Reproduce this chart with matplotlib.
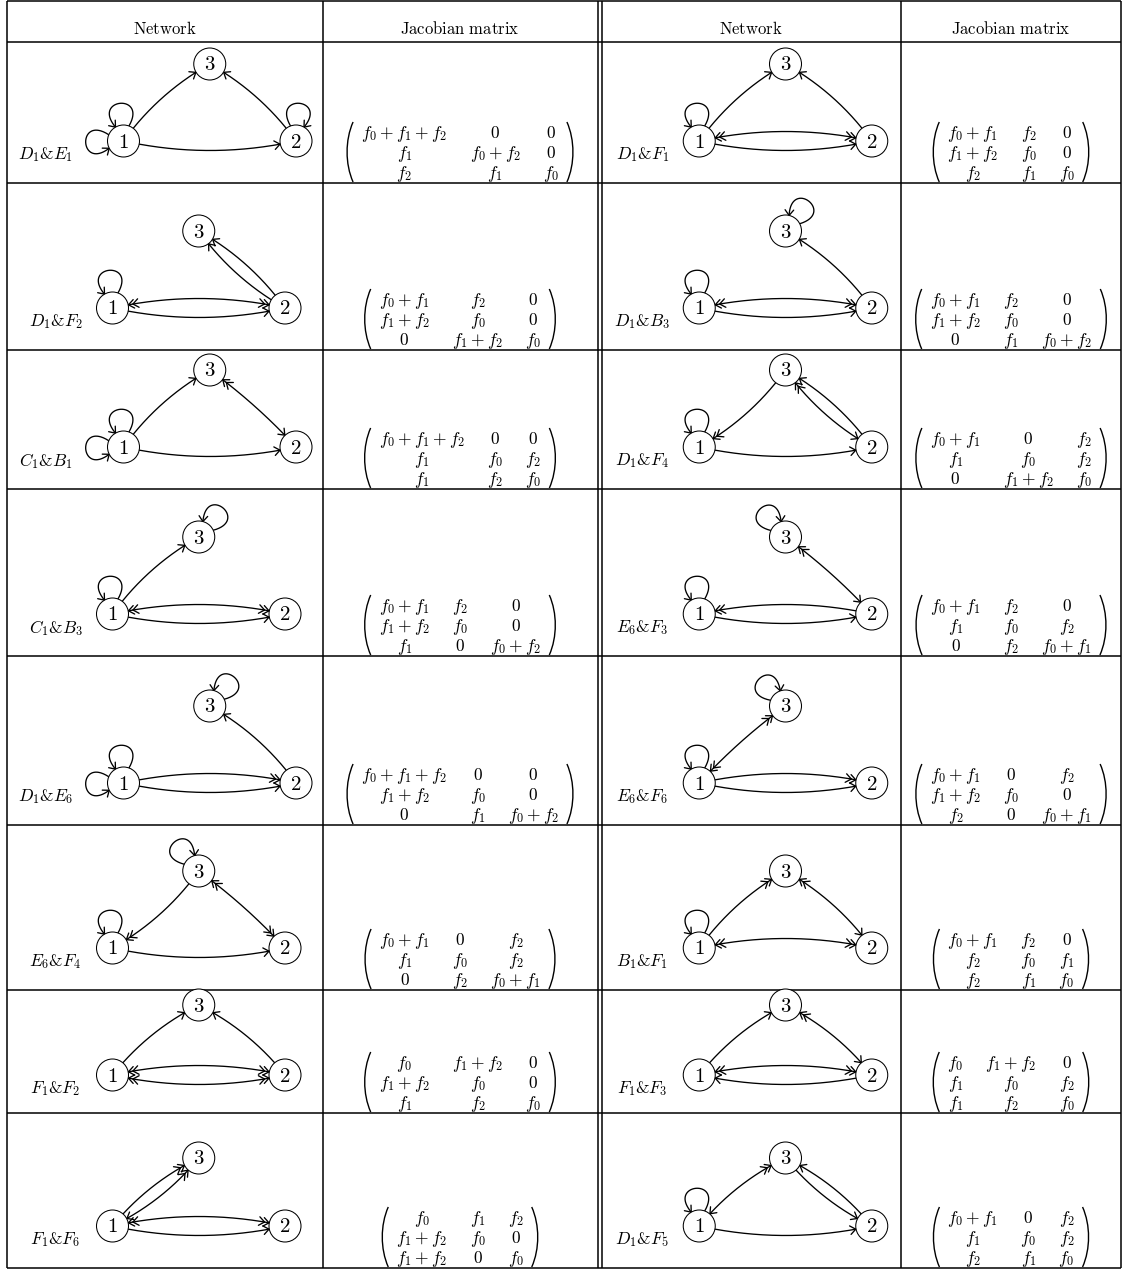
import numpy as np
import matplotlib.pyplot as plt
from matplotlib.path import Path
from matplotlib.patches import Circle, PathPatch

plt.rcParams['mathtext.fontset'] = 'cm'

W, H = 1126, 1272

headers = ["Network", "Jacobian matrix", "Network", "Jacobian matrix"]

labels_left = ["D_1&E_1", "D_1&F_2", "C_1&B_1", "C_1&B_3",
               "D_1&E_6", "E_6&F_4", "F_1&F_2", "F_1&F_6"]
labels_right = ["D_1&F_1", "D_1&B_3", "D_1&F_4", "E_6&F_3",
                "E_6&F_6", "B_1&F_1", "F_1&F_3", "D_1&F_5"]

jac_left = [
    [["f_0+f_1+f_2", "0", "0"], ["f_1", "f_0+f_2", "0"], ["f_2", "f_1", "f_0"]],
    [["f_0+f_1", "f_2", "0"], ["f_1+f_2", "f_0", "0"], ["0", "f_1+f_2", "f_0"]],
    [["f_0+f_1+f_2", "0", "0"], ["f_1", "f_0", "f_2"], ["f_1", "f_2", "f_0"]],
    [["f_0+f_1", "f_2", "0"], ["f_1+f_2", "f_0", "0"], ["f_1", "0", "f_0+f_2"]],
    [["f_0+f_1+f_2", "0", "0"], ["f_1+f_2", "f_0", "0"], ["0", "f_1", "f_0+f_2"]],
    [["f_0+f_1", "0", "f_2"], ["f_1", "f_0", "f_2"], ["0", "f_2", "f_0+f_1"]],
    [["f_0", "f_1+f_2", "0"], ["f_1+f_2", "f_0", "0"], ["f_1", "f_2", "f_0"]],
    [["f_0", "f_1", "f_2"], ["f_1+f_2", "f_0", "0"], ["f_1+f_2", "0", "f_0"]],
]
jac_right = [
    [["f_0+f_1", "f_2", "0"], ["f_1+f_2", "f_0", "0"], ["f_2", "f_1", "f_0"]],
    [["f_0+f_1", "f_2", "0"], ["f_1+f_2", "f_0", "0"], ["0", "f_1", "f_0+f_2"]],
    [["f_0+f_1", "0", "f_2"], ["f_1", "f_0", "f_2"], ["0", "f_1+f_2", "f_0"]],
    [["f_0+f_1", "f_2", "0"], ["f_1", "f_0", "f_2"], ["0", "f_2", "f_0+f_1"]],
    [["f_0+f_1", "0", "f_2"], ["f_1+f_2", "f_0", "0"], ["f_2", "0", "f_0+f_1"]],
    [["f_0+f_1", "f_2", "0"], ["f_2", "f_0", "f_1"], ["f_2", "f_1", "f_0"]],
    [["f_0", "f_1+f_2", "0"], ["f_1", "f_0", "f_2"], ["f_1", "f_2", "f_0"]],
    [["f_0+f_1", "0", "f_2"], ["f_1", "f_0", "f_2"], ["f_2", "f_1", "f_0"]],
]

# arcs: (node a, node b, side, heads at a, heads at b)
arcs_left = [
    [(1, 2, 'out', 0, 1), (1, 3, 'out', 0, 1), (2, 3, 'out', 0, 1)],
    [(1, 2, 'in', 2, 2), (1, 2, 'out', 0, 1), (2, 3, 'out', 0, 1), (2, 3, 'in', 0, 1)],
    [(1, 2, 'out', 0, 1), (1, 3, 'out', 0, 1), (2, 3, 'flat', 1, 2)],
    [(1, 2, 'in', 2, 2), (1, 2, 'out', 0, 1), (1, 3, 'out', 0, 1)],
    [(1, 2, 'in', 0, 2), (1, 2, 'out', 0, 1), (2, 3, 'out', 0, 1)],
    [(1, 3, 'in', 2, 0), (1, 2, 'out', 0, 1), (2, 3, 'flat', 2, 2)],
    [(1, 2, 'in', 2, 2), (1, 2, 'out', 2, 2), (1, 3, 'out', 0, 1), (2, 3, 'out', 0, 1)],
    [(1, 2, 'in', 2, 2), (1, 2, 'out', 0, 1), (1, 3, 'out', 0, 2), (1, 3, 'in', 1, 2)],
]
arcs_right = [
    [(1, 2, 'in', 2, 2), (1, 2, 'out', 0, 1), (1, 3, 'out', 0, 1), (2, 3, 'out', 0, 1)],
    [(1, 2, 'in', 2, 2), (1, 2, 'out', 0, 1), (2, 3, 'out', 0, 1)],
    [(1, 3, 'in', 2, 0), (1, 2, 'out', 0, 1), (2, 3, 'out', 0, 1), (2, 3, 'in', 1, 2)],
    [(1, 2, 'in', 2, 0), (1, 2, 'out', 0, 1), (2, 3, 'flat', 1, 2)],
    [(1, 2, 'in', 0, 2), (1, 2, 'out', 0, 1), (1, 3, 'flat', 2, 2)],
    [(1, 2, 'in', 2, 2), (1, 3, 'out', 0, 2), (2, 3, 'out', 1, 2)],
    [(1, 2, 'in', 2, 2), (1, 2, 'out', 1, 0), (1, 3, 'out', 0, 1), (2, 3, 'out', 1, 2)],
    [(1, 2, 'out', 0, 1), (1, 3, 'out', 1, 2), (2, 3, 'out', 0, 1), (2, 3, 'in', 1, 0)],
]

# self loops: (node, direction in degrees, turn sense)
loops_left = [
    [(1, 95, 'ccw'), (1, 182, 'ccw'), (2, 85, 'cw')],
    [(1, 95, 'ccw')],
    [(1, 95, 'ccw'), (1, 182, 'ccw')],
    [(1, 95, 'ccw'), (3, 50, 'ccw')],
    [(1, 95, 'ccw'), (1, 182, 'ccw'), (3, 50, 'ccw')],
    [(1, 95, 'ccw'), (3, 130, 'cw')],
    [],
    [],
]
loops_right = [
    [(1, 95, 'ccw')],
    [(1, 95, 'ccw'), (3, 52, 'ccw')],
    [(1, 95, 'ccw')],
    [(1, 95, 'ccw'), (3, 131, 'cw')],
    [(1, 95, 'ccw'), (3, 134, 'cw')],
    [(1, 95, 'ccw')],
    [],
    [(1, 95, 'ccw')],
]

# table geometry (pixels)
col_x = [6.5, 322.5, 597.5, 601.5, 901, 1121]
row_y = [1, 42, 183, 350, 489, 656, 825, 990, 1113, 1268]
node_lift = [42, 42, 42, 42, 42, 42, 38, 42]   # nodes 1, 2 above row bottom
node3_h = [77, 77, 77, 77, 77, 77, 70, 68]     # node 3 above nodes 1, 2

R = 16          # node radius
D12 = 172.5     # distance node 1 - node 2
LW_EDGE = 0.95


def unit(ang):
    a = np.radians(ang)
    return np.array([np.cos(a), -np.sin(a)])


def arrow_head(ax, tip, u, n):
    u = u / np.hypot(*u)
    for k in range(n):
        p = tip - 4.5 * k * u
        for s in (1, -1):
            a = np.radians(38 * s)
            rot = np.array([[np.cos(a), -np.sin(a)], [np.sin(a), np.cos(a)]])
            b = p - 7 * rot @ u
            ax.plot([b[0], p[0]], [b[1], p[1]], color='k', lw=LW_EDGE,
                    solid_capstyle='round')


def draw_arc(ax, P, Q, ctr, side, ha, hb):
    P, Q = np.asarray(P, float), np.asarray(Q, float)
    ch = Q - P
    L = np.hypot(*ch)
    n = np.array([-ch[1], ch[0]]) / L
    mid = (P + Q) / 2
    if np.dot(n, mid - ctr) < 0:
        n = -n
    sag = {'out': 0.055, 'in': -0.055, 'flat': 0.025}[side] * L
    C = mid + 2 * sag * n
    t = np.linspace(0, 1, 400)[:, None]
    pts = (1 - t) ** 2 * P + 2 * (1 - t) * t * C + t ** 2 * Q
    keep = (np.hypot(*(pts - P).T) >= R) & (np.hypot(*(pts - Q).T) >= R)
    pts = pts[keep]
    ax.plot(pts[:, 0], pts[:, 1], color='k', lw=LW_EDGE)
    if hb:
        arrow_head(ax, pts[-1], pts[-1] - pts[-4], hb)
    if ha:
        arrow_head(ax, pts[0], pts[0] - pts[3], ha)


def draw_loop(ax, c, ang, turn):
    s, s2, L = 25, 35, 38
    if turn == 'ccw':
        a0, a1, b0, b1 = ang - s, ang + s, ang - s2, ang + s2
    else:
        a0, a1, b0, b1 = ang + s, ang - s, ang + s2, ang - s2
    p0 = c + R * unit(a0)
    p3 = c + R * unit(a1)
    p1 = p0 + L * unit(b0)
    p2 = p3 + L * unit(b1)
    t = np.linspace(0, 1, 200)[:, None]
    pts = ((1 - t) ** 3 * p0 + 3 * (1 - t) ** 2 * t * p1
           + 3 * (1 - t) * t ** 2 * p2 + t ** 3 * p3)
    ax.plot(pts[:, 0], pts[:, 1], color='k', lw=LW_EDGE)
    arrow_head(ax, p3, p3 - p2, 1)


def draw_network(ax, xc, y, h3, arcs, loops, label):
    left_loop = any(n == 1 and 150 < a < 210 for n, a, _ in loops)
    x1 = xc - (41 if left_loop else 52)
    nodes = {1: np.array([x1, y]), 2: np.array([x1 + D12, y]),
             3: np.array([x1 + D12 / 2, y - h3])}
    ctr = (nodes[1] + nodes[2] + nodes[3]) / 3
    for a, b, side, ha, hb in arcs:
        draw_arc(ax, nodes[a], nodes[b], ctr, side, ha, hb)
    for n, ang, turn in loops:
        draw_loop(ax, nodes[n], ang, turn)
    for k, p in nodes.items():
        ax.add_patch(Circle(p, R, facecolor='white', edgecolor='k', lw=0.75, zorder=3))
        ax.text(p[0], p[1] + 0.5, f"${k}$", fontsize=15, ha='center', va='center', zorder=4)
    lx = x1 - (78 if left_loop else 57)
    ax.text(lx, y + 14, f"${label}$", fontsize=12.5, ha='center', va='center')


def paren(ax, x_out, top, bot, side):
    w = 7 * side
    verts = [(x_out + w, top), (x_out - side, top + 0.3 * (bot - top)),
             (x_out - side, bot - 0.3 * (bot - top)), (x_out + w, bot)]
    codes = [Path.MOVETO, Path.CURVE4, Path.CURVE4, Path.CURVE4]
    ax.add_patch(PathPatch(Path(verts, codes), facecolor='none', edgecolor='k', lw=1.0))


def draw_matrix(ax, xc, ybot, M, rend):
    txt = [[ax.text(0, 0, f"${e}$", fontsize=12.5, ha='center', va='baseline')
            for e in row] for row in M]
    widths = [max(txt[i][j].get_window_extent(rend).width for i in range(3))
              for j in range(3)]
    gap, pad = 22, 15
    total = sum(widths) + 2 * gap + 2 * pad
    x = xc - total / 2 + pad
    xs = []
    for w in widths:
        xs.append(x + w / 2)
        x += w + gap
    for i in range(3):
        for j in range(3):
            txt[i][j].set_position((xs[j], ybot - 45 + 20 * i))
    paren(ax, xc - total / 2, ybot - 61, ybot - 1, 1)
    paren(ax, xc + total / 2, ybot - 61, ybot - 1, -1)


fig = plt.figure(figsize=(W / 100, H / 100), dpi=100)
ax = fig.add_axes([0, 0, 1, 1])
ax.set_xlim(0, W)
ax.set_ylim(H, 0)
ax.axis('off')
rend = fig.canvas.get_renderer()

# table rules
ax.hlines(row_y, col_x[0], col_x[-1], color='k', lw=1.1)
ax.vlines(col_x, row_y[0], row_y[-1], color='k', lw=1.1)

centers = [(col_x[0] + col_x[1]) / 2, (col_x[1] + col_x[2]) / 2,
           (col_x[3] + col_x[4]) / 2, (col_x[4] + col_x[5]) / 2]
for xc, h in zip(centers, headers):
    ax.text(xc, 34, r"$\mathrm{" + h.replace(" ", r"\ ") + "}$",
            fontsize=12, ha='center', va='baseline')

for i in range(8):
    ybot = row_y[i + 2]
    y = ybot - node_lift[i]
    draw_network(ax, centers[0], y, node3_h[i], arcs_left[i], loops_left[i], labels_left[i])
    draw_matrix(ax, centers[1], ybot, jac_left[i], rend)
    draw_network(ax, centers[2], y, node3_h[i], arcs_right[i], loops_right[i], labels_right[i])
    draw_matrix(ax, centers[3], ybot, jac_right[i], rend)

fig.savefig("out.png", dpi=100)
